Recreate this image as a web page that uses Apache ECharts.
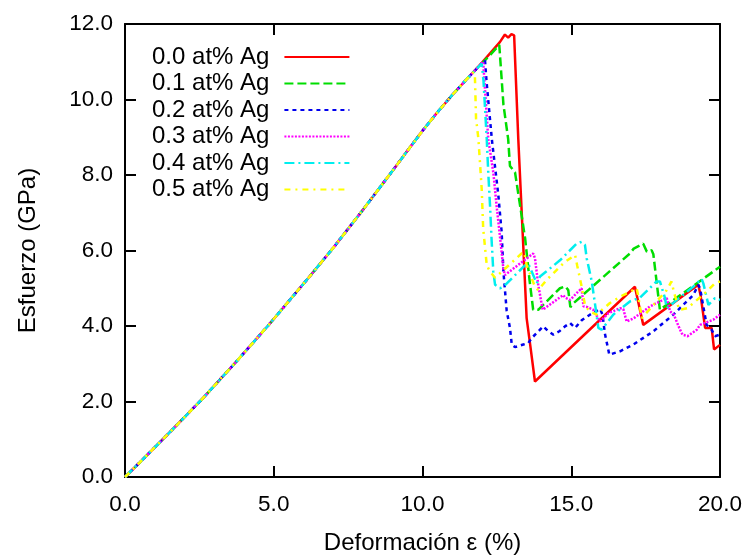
<!DOCTYPE html>
<html>
<head>
<meta charset="utf-8">
<script src="https://cdn.jsdelivr.net/npm/echarts@6/dist/echarts.min.js"></script>
<style>html,body{margin:0;padding:0;background:#fff}#c{width:747px;height:560px}</style>
</head>
<body>
<div id="c"></div>
<script>
// Shared elastic rise (strain %, stress GPa)
const riseStrain = [0, 0.5, 1.4, 2.6, 3.7, 4.8, 6.15, 7, 8, 9, 9.5, 10, 10.5, 11, 11.5];
const riseStress = [0, 0.39, 1.1, 2.07, 3.02, 4.0, 5.26, 6.07, 7.08, 8.12, 8.65, 9.17, 9.66, 10.12, 10.55];

const seriesNames = ['0.0 at% Ag', '0.1 at% Ag', '0.2 at% Ag', '0.3 at% Ag', '0.4 at% Ag', '0.5 at% Ag'];
const seriesColors = ['#ff0000', '#00dd00', '#0000ee', '#ff00ff', '#00eeee', '#ffff00'];

// Post-rise parts [strain, stress]
const ag00 = [[12,10.98],[12.3,11.25],[12.6,11.52],[12.77,11.72],[12.88,11.64],[12.99,11.73],[13.08,11.7],[13.22,8.95],[13.5,4.21],[13.62,3.5],[13.78,2.53],[17.14,5.04],[17.42,4.03],[19.27,5.09],[19.35,4.8],[19.5,3.95],[19.72,3.95],[19.8,3.38],[20,3.5]];
const ag01 = [[12,10.96],[12.3,11.2],[12.58,11.45],[12.72,9.87],[12.88,8.95],[12.94,8.24],[13.11,8.07],[13.28,7.19],[13.45,6.32],[13.6,5.2],[13.72,4.43],[13.89,4.43],[14.62,5.0],[14.8,5.05],[14.9,4.95],[14.97,4.5],[15.07,4.6],[16.97,5.92],[17.1,6.05],[17.42,6.18],[17.54,5.97],[17.7,6.01],[17.76,5.9],[17.98,4.43],[20,5.57]];
const ag02 = [[12,10.96],[12.1,11.05],[12.15,10.5],[12.33,8.95],[12.55,7.46],[12.66,6.49],[12.72,5.44],[12.83,4.4],[12.94,3.95],[13.0,3.51],[13.11,3.44],[13.39,3.51],[13.56,3.55],[13.67,3.68],[14.06,3.99],[14.23,3.86],[14.4,3.77],[14.6,3.86],[14.79,3.99],[14.96,4.08],[15.13,3.95],[15.35,4.15],[15.63,4.3],[15.97,4.45],[16.05,4.3],[16.13,3.8],[16.28,3.24],[16.64,3.33],[17.09,3.51],[17.76,3.86],[18.43,4.3],[19.1,4.82],[19.27,5.09],[19.33,5.0],[19.55,4.03],[19.72,3.9],[19.83,3.73],[20,3.77]];
const ag03 = [[12.04,11.0],[12.21,8.95],[12.38,8.07],[12.49,7.19],[12.6,6.4],[12.72,5.5],[12.77,5.35],[13.72,5.92],[13.78,5.8],[13.89,5.09],[14.04,4.43],[14.1,4.4],[14.73,4.82],[14.8,4.75],[14.96,4.69],[15.18,4.87],[15.35,5.0],[15.41,4.52],[15.55,4.5],[15.74,4.43],[15.97,4.12],[16.25,4.34],[16.64,4.47],[16.75,4.45],[16.86,4.12],[17.09,4.2],[17.65,4.52],[17.98,4.65],[18.21,4.74],[18.32,4.39],[18.45,4.3],[18.63,3.95],[18.74,3.77],[18.91,3.73],[19.22,3.9],[19.33,4.03],[19.78,4.17],[20,4.3]];
const ag04 = [[11.99,10.95],[12.05,10.5],[12.16,8.95],[12.21,8.07],[12.27,7.19],[12.32,6.32],[12.38,5.44],[12.44,5.09],[12.6,5.0],[12.72,5.04],[13.05,5.3],[13.45,5.61],[13.55,5.66],[13.72,5.35],[13.84,5.13],[13.95,5.31],[14.17,5.45],[14.62,5.74],[15.18,6.18],[15.35,6.23],[15.46,6.15],[15.52,5.79],[15.69,5.18],[15.85,4.3],[15.91,3.95],[16.02,3.9],[16.41,4.3],[16.97,4.65],[17.31,4.75],[17.87,5.18],[17.98,5.18],[18.05,5.0],[18.15,4.74],[18.21,4.47],[19.1,5.04],[19.38,5.25],[19.44,5.13],[19.61,4.56],[19.83,4.74],[20,4.69]];
const ag05 = [[11.71,10.72],[11.76,10.66],[11.8,9.5],[11.88,8.95],[11.99,7.63],[12.04,6.58],[12.16,5.61],[12.27,5.44],[12.44,5.28],[12.49,5.26],[12.72,5.48],[13.33,5.92],[13.42,5.95],[13.5,5.61],[13.78,5.04],[13.89,4.95],[14.17,5.22],[14.79,5.7],[15.13,5.88],[15.2,5.6],[15.35,5.04],[15.46,4.56],[15.6,4.4],[15.85,4.3],[16.3,4.61],[16.75,4.82],[17.2,5.0],[17.25,4.8],[17.37,4.21],[18.21,4.95],[18.37,5.18],[18.45,4.9],[18.63,4.43],[18.9,4.47],[19.55,4.91],[19.83,5.13],[20,5.18]];
const tails = [ag00, ag01, ag02, ag03, ag04, ag05];

const xTicks = [0, 5, 10, 15, 20];
const yTicks = [0, 2, 4, 6, 8, 10, 12];

const dashes = [
  'solid',
  [9, 4],
  [4, 4],
  [2, 1.5],
  [10, 4, 2, 4],
  [6, 5, 2, 5]
];

const FONT = 'Liberation Sans';

function build(i) {
  const tail = tails[i];
  const firstX = tail[0][0];
  const pts = [];
  for (let k = 0; k < riseStrain.length; k++) {
    if (riseStrain[k] < firstX) pts.push([riseStrain[k], riseStress[k]]);
  }
  return pts.concat(tail);
}

const chart = echarts.init(document.getElementById('c'), null, {renderer: 'canvas'});
const fmt = v => v.toFixed(1);
const axisCommon = {
  axisLine: {show: true, onZero: false, lineStyle: {color: '#000', width: 2}},
  axisTick: {show: true, inside: true, length: 11, lineStyle: {color: '#000', width: 2}},
  splitLine: {show: false}
};

const option = {
  animation: false,
  backgroundColor: '#fff',
  grid: {left: 125, right: 27, top: 24, bottom: 80, show: false},
  legend: {
    show: true,
    orient: 'vertical',
    left: 152,
    top: 45,
    padding: 0,
    align: 'right',
    itemWidth: 65,
    itemHeight: 12,
    itemGap: 2.5,
    itemStyle: {opacity: 0},
    textStyle: {fontFamily: FONT, fontSize: 24, color: '#000', lineHeight: 24, padding: [0, 10, 0, 0]},
    data: seriesNames
  },
  xAxis: [
    Object.assign({type: 'value', position: 'bottom', min: xTicks[0], max: xTicks[xTicks.length-1], interval: 5,
      name: 'Deformación ε (%)', nameLocation: 'middle', nameGap: 54,
      nameTextStyle: {fontFamily: FONT, fontSize: 24, color: '#000'},
      axisLabel: {show: true, formatter: fmt, margin: 16, fontFamily: FONT, fontSize: 22.5, color: '#000'}}, axisCommon),
    Object.assign({type: 'value', position: 'top', min: xTicks[0], max: xTicks[xTicks.length-1], interval: 5,
      axisLabel: {show: false}}, axisCommon)
  ],
  yAxis: [
    Object.assign({type: 'value', position: 'left', min: yTicks[0], max: yTicks[yTicks.length-1], interval: 2,
      name: 'Esfuerzo (GPa)', nameLocation: 'middle', nameGap: 85,
      nameTextStyle: {fontFamily: FONT, fontSize: 24, color: '#000'},
      axisLabel: {show: true, formatter: fmt, margin: 12, fontFamily: FONT, fontSize: 22.5, color: '#000'}}, axisCommon),
    Object.assign({type: 'value', position: 'right', min: yTicks[0], max: yTicks[yTicks.length-1], interval: 2,
      axisLabel: {show: false}}, axisCommon)
  ],
  series: seriesNames.map((n, i) => ({
    name: n,
    type: 'line',
    xAxisIndex: 0,
    yAxisIndex: 0,
    data: build(i),
    symbol: 'none',
    showSymbol: false,
    smooth: false,
    z: 2 + i,
    color: seriesColors[i],
    lineStyle: {color: seriesColors[i], width: 2.5, type: dashes[i]}
  }))
};
chart.setOption(option);
</script>
</body>
</html>
